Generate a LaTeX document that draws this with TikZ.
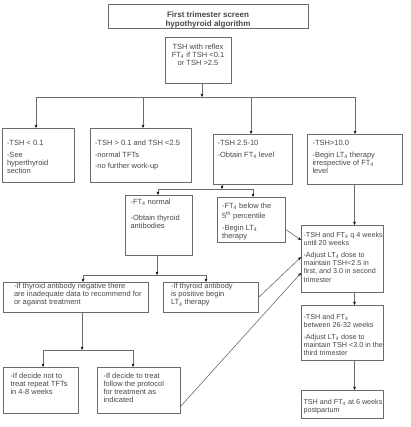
\documentclass[tikz,border=0pt]{standalone}
\usepackage{fontspec}
\setmainfont{Liberation Sans}
\usetikzlibrary{arrows.meta}
\definecolor{lncol}{gray}{0.42}
\definecolor{txcol}{gray}{0.28}
\newcommand\sbs[1]{\textsubscript{#1}}
\newcommand\lft[1]{\raggedright\leftskip=#1pt\relax\rightskip=-30pt plus 1fil\relax}
% name, x1, y1, x2, y2, top pad, alignment, text
\newcommand\mkbox[8]{%
  \node[bx] (#1) at (#2,#3) {\parbox[c][\dimexpr #5pt-#3pt\relax][t]{\dimexpr #4pt-#2pt\relax}{#7\vspace*{#6pt}\strut\setlength\parskip{3.4pt}#8}};}
\begin{document}
\begin{tikzpicture}[x=1pt,y=-1pt,
  bx/.style={draw=lncol, line width=0.6pt, inner sep=0pt, outer sep=0pt,
    anchor=north west, text=txcol, font=\fontsize{7.5}{8.2}\selectfont},
  wire/.style={draw=lncol, line width=0.6pt},
  arr/.style={wire, -{Stealth[length=3.4pt,width=2.8pt,color=black]}}]
\useasboundingbox (0,0) rectangle (410,427);

\mkbox{title}{108}{4}{308}{28}{8}{\centering\bfseries\fontsize{8}{8.4}\selectfont}{First trimester screen\\hypothyroid algorithm}
\mkbox{tsh}{165}{37}{231}{83}{6.4}{\centering}{TSH with reflex\\FT\sbs{4} if TSH <0.1\\or TSH >2.5}

\mkbox{b1}{2}{128}{74}{182}{12}{\lft{5}}{-TSH < 0.1\par -See\\hyperthyroid\\section}
\mkbox{b2}{90}{128}{191}{182}{12}{\lft{5}}{-TSH > 0.1 and TSH <2.5\par -normal TFTs\par -no further work-up}
\mkbox{b3}{213}{134}{292}{184}{6}{\lft{4.5}}{-TSH 2.5-10\par -Obtain FT\sbs{4} level}
\mkbox{b4}{307}{134}{402}{184}{6}{\lft{5.5}}{-TSH>10.0\par -Begin LT\sbs{4} therapy\\irrespective of FT\sbs{4}\\level}

\mkbox{b5}{125}{195}{192}{255}{4}{\lft{5.5}}{-FT\sbs{4} normal\par\vspace{4pt}-Obtain thyroid\\antibodies}
\mkbox{b6}{217}{197}{285}{242}{5.5}{\lft{5}}{-FT\sbs{4} below the\\5\textsuperscript{th} percentile\par -Begin LT\sbs{4}\\therapy}

\mkbox{b7}{3}{282}{148}{312}{0.8}{\lft{11}}{-If thyroid antibody negative there\\are inadequate data to recommend for\\or against treatment}
\mkbox{b8}{163}{282}{258}{312}{0.8}{\lft{8}}{-If thyroid antibody\\is positive begin\\LT\sbs{4} therapy}

\mkbox{b9}{3}{367}{78}{413}{5.6}{\lft{7.5}}{-If decide not to\\treat repeat TFTs\\in 4-8 weeks}
\mkbox{b10}{97}{367}{180}{413}{5.6}{\lft{6.5}}{-If decide to treat\\follow the protocol\\for treatment as\\indicated}

\mkbox{b11}{301}{225}{383}{292}{6.9}{\fontsize{7.2}{8.2}\selectfont\lft{2.5}}{-TSH and FT\sbs{4} q 4 weeks\\until 20 weeks\par -Adjust LT\sbs{4} dose to\\maintain TSH<2.5 in\\first, and 3.0 in second\\trimester}
\mkbox{b12}{301}{305}{383}{360}{8.8}{\fontsize{7.2}{8.2}\selectfont\lft{2.5}}{-TSH and FT\sbs{4}\\between 26-32 weeks\par -Adjust LT\sbs{4} dose to\\maintain TSH <3.0 in the\\third trimester}
\mkbox{b13}{301}{390}{383}{418}{8.8}{\fontsize{7.2}{8.2}\selectfont\lft{2.5}}{TSH and FT\sbs{4} at 6 weeks\\postpartum}

% junction coordinates
\coordinate (j0) at (202,97);
\coordinate (j1) at (36,97);
\coordinate (j2) at (143,97);
\coordinate (j3) at (251,97);
\coordinate (j4) at (355,97);
\coordinate (k0) at (222,189);
\coordinate (k1) at (158,189);
\coordinate (k2) at (253,189);
\coordinate (m0) at (157,275);
\coordinate (m1) at (83,275);
\coordinate (m2) at (206,275);
\coordinate (n0) at (82,350);
\coordinate (n1) at (43,350);
\coordinate (n2) at (133,350);

\draw[arr] (tsh.south -| j0) -- (j0);
\draw[wire] (j1) -- (j4);
\draw[arr] (j1) -- (j1 |- b1.north);
\draw[arr] (j2) -- (j2 |- b2.north);
\draw[arr] (j3) -- (j3 |- b3.north);
\draw[arr] (j4) -- (j4 |- b4.north);

\draw[arr] (b3.south -| k0) -- (k0);
\draw[wire] (k1) -- (k2);
\draw[arr] (k1) -- (k1 |- b5.north);
\draw[arr] (k2) -- (k2 |- b6.north);

\draw[arr] (b5.south -| m0) -- (m0);
\draw[wire] (m1) -- (m2);
\draw[arr] (m1) -- (m1 |- b7.north);
\draw[arr] (m2) -- (m2 |- b8.north);

\draw[arr] (b7.south -| n0) -- (n0);
\draw[wire] (n1) -- (n2);
\draw[arr] (n1) -- (n1 |- b9.north);
\draw[arr] (n2) -- (n2 |- b10.north);

\draw[arr] (b4.south) -- (b4.south |- b11.north);
\draw[arr] (b11.south -| b4.south) -- (b12.north -| b4.south);
\draw[arr] (b12.south -| b4.south) -- (b13.north -| b4.south);

\draw[arr] (b6.east |- 0,229) -- (b11.west |- 0,240);
\draw[arr] (b8.east |- 0,298) -- (b11.west |- 0,257);
\draw[arr] (b10.east |- 0,407) -- (b11.west |- 0,273);
\end{tikzpicture}
\end{document}
